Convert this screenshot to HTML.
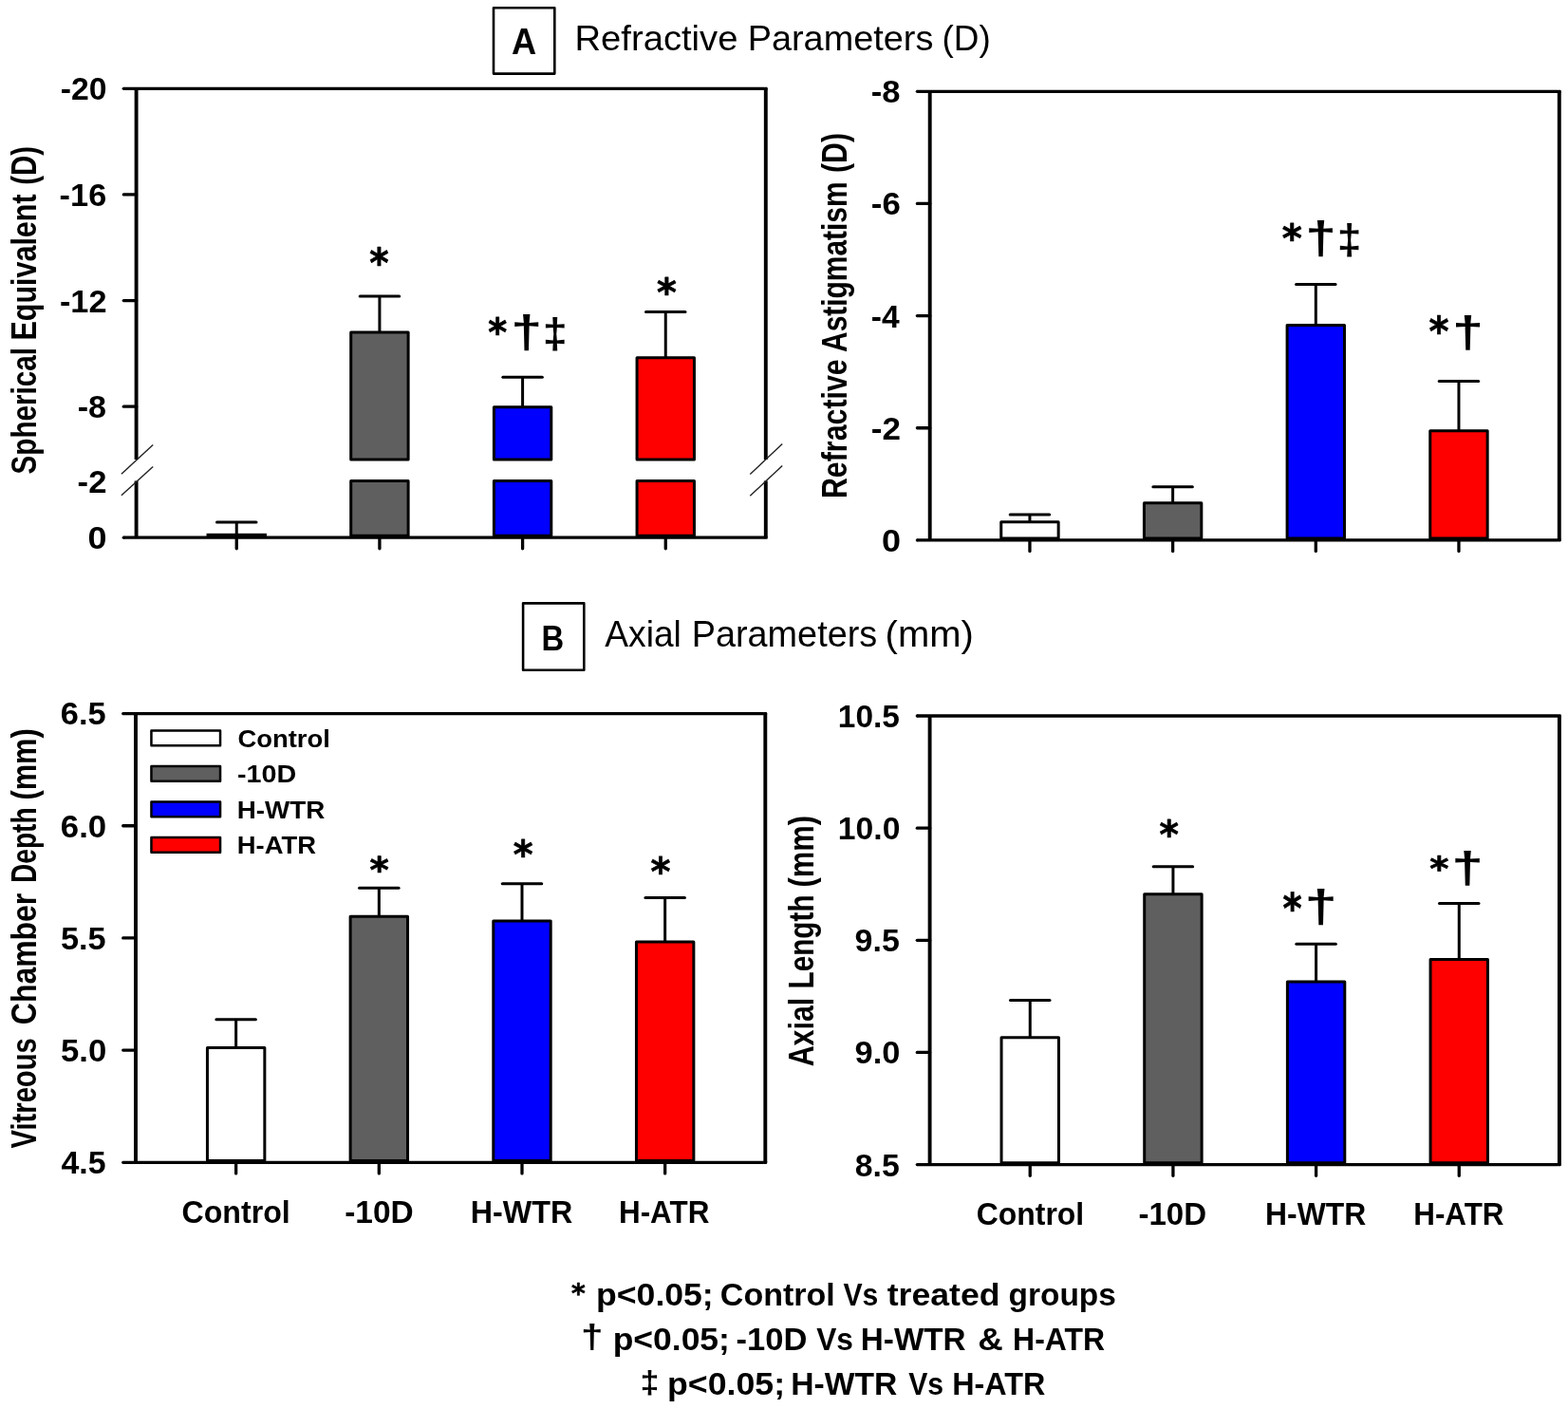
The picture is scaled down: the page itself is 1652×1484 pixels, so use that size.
<!DOCTYPE html>
<html><head><meta charset="utf-8"><title>Refractive and Axial Parameters</title>
<style>html,body{margin:0;padding:0;background:#fff;}svg{display:block;}text{white-space:pre;}</style>
</head><body>
<svg width="1652" height="1484" viewBox="0 0 1652 1484" font-family='"Liberation Sans", Arial, sans-serif'>
<rect width="1652" height="1484" fill="#fff"/>
<rect x="520.00" y="8.20" width="64.30" height="69.40" fill="none" stroke="#000" stroke-width="2.6" stroke-linejoin="round"/>
<text transform="translate(538.89,57.00) scale(0.9444,1)" font-size="38.41" font-weight="bold" fill="#000">A</text>
<text transform="translate(605.54,53.40) scale(1.0215,1)" font-size="37.39" font-weight="normal" fill="#000">Refractive</text>
<text transform="translate(787.67,53.40) scale(1.0132,1)" font-size="37.39" font-weight="normal" fill="#000">Parameters</text>
<text transform="translate(992.48,53.40) scale(0.9873,1)" font-size="37.39" font-weight="normal" fill="#000">(D)</text>
<rect x="551.10" y="635.40" width="64.20" height="70.40" fill="none" stroke="#000" stroke-width="2.6" stroke-linejoin="round"/>
<text transform="translate(570.57,684.50) scale(0.8668,1)" font-size="37.83" font-weight="bold" fill="#000">B</text>
<text transform="translate(637.30,681.30) scale(0.9757,1)" font-size="38.12" font-weight="normal" fill="#000">Axial</text>
<text transform="translate(728.67,681.30) scale(0.9929,1)" font-size="38.12" font-weight="normal" fill="#000">Parameters</text>
<text transform="translate(932.60,681.30) scale(1.0494,1)" font-size="38.12" font-weight="normal" fill="#000">(mm)</text>
<line x1="249.25" y1="550.00" x2="249.25" y2="563.30" stroke="#000" stroke-width="3.0" stroke-linecap="butt"/>
<line x1="228.50" y1="550.00" x2="270.00" y2="550.00" stroke="#000" stroke-width="3.0" stroke-linecap="round"/>
<rect x="217.55" y="561.80" width="63.40" height="4.40" fill="#000"/>
<line x1="399.92" y1="311.90" x2="399.92" y2="350.00" stroke="#000" stroke-width="3.0" stroke-linecap="butt"/>
<line x1="379.17" y1="311.90" x2="420.67" y2="311.90" stroke="#000" stroke-width="3.0" stroke-linecap="round"/>
<rect x="369.72" y="350.00" width="60.40" height="134.00" fill="#5f5f5f" stroke="#000" stroke-width="3.0" stroke-linejoin="round"/>
<rect x="369.72" y="506.50" width="60.40" height="57.80" fill="#5f5f5f" stroke="#000" stroke-width="3.0" stroke-linejoin="round"/>
<line x1="550.59" y1="397.30" x2="550.59" y2="428.80" stroke="#000" stroke-width="3.0" stroke-linecap="butt"/>
<line x1="529.84" y1="397.30" x2="571.34" y2="397.30" stroke="#000" stroke-width="3.0" stroke-linecap="round"/>
<rect x="520.39" y="428.80" width="60.40" height="55.20" fill="#0000ff" stroke="#000" stroke-width="3.0" stroke-linejoin="round"/>
<rect x="520.39" y="506.50" width="60.40" height="57.80" fill="#0000ff" stroke="#000" stroke-width="3.0" stroke-linejoin="round"/>
<line x1="701.26" y1="328.40" x2="701.26" y2="376.70" stroke="#000" stroke-width="3.0" stroke-linecap="butt"/>
<line x1="680.51" y1="328.40" x2="722.01" y2="328.40" stroke="#000" stroke-width="3.0" stroke-linecap="round"/>
<rect x="671.06" y="376.70" width="60.40" height="107.30" fill="#ff0000" stroke="#000" stroke-width="3.0" stroke-linejoin="round"/>
<rect x="671.06" y="506.50" width="60.40" height="57.80" fill="#ff0000" stroke="#000" stroke-width="3.0" stroke-linejoin="round"/>
<line x1="130.30" y1="93.35" x2="805.35" y2="93.35" stroke="#000" stroke-width="3.3" stroke-linecap="butt"/>
<circle cx="130.30" cy="93.35" r="1.65" fill="#000"/>
<line x1="130.30" y1="566.20" x2="805.35" y2="566.20" stroke="#000" stroke-width="3.3" stroke-linecap="butt"/>
<circle cx="130.30" cy="566.20" r="1.65" fill="#000"/>
<line x1="143.60" y1="93.35" x2="143.60" y2="484.00" stroke="#000" stroke-width="3.9" stroke-linecap="butt"/>
<line x1="143.60" y1="506.50" x2="143.60" y2="566.20" stroke="#000" stroke-width="3.9" stroke-linecap="butt"/>
<line x1="806.80" y1="93.35" x2="806.80" y2="484.00" stroke="#000" stroke-width="3.9" stroke-linecap="butt"/>
<line x1="806.80" y1="506.50" x2="806.80" y2="566.20" stroke="#000" stroke-width="3.9" stroke-linecap="butt"/>
<rect x="804.85" y="91.70" width="3.90" height="3.30" rx="1.2" fill="#000"/>
<rect x="804.85" y="564.55" width="3.90" height="3.30" rx="1.2" fill="#000"/>
<line x1="130.30" y1="204.95" x2="143.60" y2="204.95" stroke="#000" stroke-width="3.3" stroke-linecap="round"/>
<line x1="130.30" y1="316.55" x2="143.60" y2="316.55" stroke="#000" stroke-width="3.3" stroke-linecap="round"/>
<line x1="130.30" y1="428.15" x2="143.60" y2="428.15" stroke="#000" stroke-width="3.3" stroke-linecap="round"/>
<line x1="249.25" y1="566.20" x2="249.25" y2="577.85" stroke="#000" stroke-width="3.3" stroke-linecap="round"/>
<line x1="399.92" y1="566.20" x2="399.92" y2="577.85" stroke="#000" stroke-width="3.3" stroke-linecap="round"/>
<line x1="550.59" y1="566.20" x2="550.59" y2="577.85" stroke="#000" stroke-width="3.3" stroke-linecap="round"/>
<line x1="701.26" y1="566.20" x2="701.26" y2="577.85" stroke="#000" stroke-width="3.3" stroke-linecap="round"/>
<line x1="127.90" y1="499.30" x2="161.20" y2="468.50" stroke="#222" stroke-width="1.4" stroke-linecap="butt"/>
<line x1="127.90" y1="521.70" x2="161.20" y2="491.60" stroke="#222" stroke-width="1.4" stroke-linecap="butt"/>
<line x1="790.30" y1="499.50" x2="824.20" y2="467.50" stroke="#222" stroke-width="1.4" stroke-linecap="butt"/>
<line x1="790.30" y1="522.20" x2="824.20" y2="490.60" stroke="#222" stroke-width="1.4" stroke-linecap="butt"/>
<text transform="translate(63.65,105.18) scale(1.0426,1)" font-size="32.39" font-weight="bold" fill="#000">-20</text>
<text transform="translate(62.62,216.78) scale(1.0613,1)" font-size="32.39" font-weight="bold" fill="#000">-16</text>
<text transform="translate(62.93,328.70) scale(1.0435,1)" font-size="32.86" font-weight="bold" fill="#000">-12</text>
<text transform="translate(81.73,439.98) scale(1.0541,1)" font-size="32.39" font-weight="bold" fill="#000">-8</text>
<text transform="translate(81.61,518.65) scale(1.0558,1)" font-size="32.86" font-weight="bold" fill="#000">-2</text>
<text transform="translate(92.56,578.03) scale(1.1113,1)" font-size="32.39" font-weight="bold" fill="#000">0</text>
<text transform="translate(37.80,499.49) rotate(-90) scale(0.7868,1)" font-size="37.68" font-weight="bold">Spherical</text>
<text transform="translate(37.80,358.48) rotate(-90) scale(0.8089,1)" font-size="37.68" font-weight="bold">Equivalent</text>
<text transform="translate(37.80,194.66) rotate(-90) scale(0.7756,1)" font-size="37.68" font-weight="bold">(D)</text>
<text transform="translate(389.17,292.12) scale(0.9103,1)" font-size="42.80" font-weight="bold" fill="#000" font-family="'DejaVu Sans', sans-serif" stroke="#000" stroke-width="0.7" stroke-linejoin="round">*</text>
<text transform="translate(514.19,363.75) scale(0.9282,1)" font-size="41.08" font-weight="bold" fill="#000" font-family="'DejaVu Sans', sans-serif" stroke="#000" stroke-width="0.7" stroke-linejoin="round">*</text>
<text transform="translate(538.15,365.90) scale(1.2425,1)" font-size="47.72" font-weight="bold" fill="#000">†</text>
<text transform="translate(571.76,365.90) scale(1.0575,1)" font-size="44.28" font-weight="bold" fill="#000">‡</text>
<text transform="translate(692.05,322.05) scale(0.9687,1)" font-size="41.08" font-weight="bold" fill="#000" font-family="'DejaVu Sans', sans-serif" stroke="#000" stroke-width="0.7" stroke-linejoin="round">*</text>
<line x1="1084.95" y1="541.90" x2="1084.95" y2="549.80" stroke="#000" stroke-width="3.0" stroke-linecap="butt"/>
<line x1="1064.20" y1="541.90" x2="1105.70" y2="541.90" stroke="#000" stroke-width="3.0" stroke-linecap="round"/>
<rect x="1054.75" y="549.80" width="60.40" height="17.20" fill="#ffffff" stroke="#000" stroke-width="3.0" stroke-linejoin="round"/>
<line x1="1235.62" y1="512.80" x2="1235.62" y2="529.70" stroke="#000" stroke-width="3.0" stroke-linecap="butt"/>
<line x1="1214.87" y1="512.80" x2="1256.37" y2="512.80" stroke="#000" stroke-width="3.0" stroke-linecap="round"/>
<rect x="1205.42" y="529.70" width="60.40" height="37.30" fill="#5f5f5f" stroke="#000" stroke-width="3.0" stroke-linejoin="round"/>
<line x1="1386.29" y1="299.50" x2="1386.29" y2="342.40" stroke="#000" stroke-width="3.0" stroke-linecap="butt"/>
<line x1="1365.54" y1="299.50" x2="1407.04" y2="299.50" stroke="#000" stroke-width="3.0" stroke-linecap="round"/>
<rect x="1356.09" y="342.40" width="60.40" height="224.60" fill="#0000ff" stroke="#000" stroke-width="3.0" stroke-linejoin="round"/>
<line x1="1536.96" y1="401.50" x2="1536.96" y2="453.70" stroke="#000" stroke-width="3.0" stroke-linecap="butt"/>
<line x1="1516.21" y1="401.50" x2="1557.71" y2="401.50" stroke="#000" stroke-width="3.0" stroke-linecap="round"/>
<rect x="1506.76" y="453.70" width="60.40" height="113.30" fill="#ff0000" stroke="#000" stroke-width="3.0" stroke-linejoin="round"/>
<line x1="966.40" y1="96.30" x2="1641.35" y2="96.30" stroke="#000" stroke-width="3.3" stroke-linecap="butt"/>
<circle cx="966.40" cy="96.30" r="1.65" fill="#000"/>
<line x1="966.40" y1="568.90" x2="1641.35" y2="568.90" stroke="#000" stroke-width="3.3" stroke-linecap="butt"/>
<circle cx="966.40" cy="568.90" r="1.65" fill="#000"/>
<line x1="979.70" y1="96.30" x2="979.70" y2="568.90" stroke="#000" stroke-width="3.9" stroke-linecap="butt"/>
<line x1="1642.80" y1="96.30" x2="1642.80" y2="568.90" stroke="#000" stroke-width="3.9" stroke-linecap="butt"/>
<rect x="1640.85" y="94.65" width="3.90" height="3.30" rx="1.2" fill="#000"/>
<rect x="1640.85" y="567.25" width="3.90" height="3.30" rx="1.2" fill="#000"/>
<line x1="966.40" y1="214.45" x2="979.70" y2="214.45" stroke="#000" stroke-width="3.3" stroke-linecap="round"/>
<line x1="966.40" y1="332.60" x2="979.70" y2="332.60" stroke="#000" stroke-width="3.3" stroke-linecap="round"/>
<line x1="966.40" y1="450.75" x2="979.70" y2="450.75" stroke="#000" stroke-width="3.3" stroke-linecap="round"/>
<line x1="1084.95" y1="568.90" x2="1084.95" y2="580.55" stroke="#000" stroke-width="3.3" stroke-linecap="round"/>
<line x1="1235.62" y1="568.90" x2="1235.62" y2="580.55" stroke="#000" stroke-width="3.3" stroke-linecap="round"/>
<line x1="1386.29" y1="568.90" x2="1386.29" y2="580.55" stroke="#000" stroke-width="3.3" stroke-linecap="round"/>
<line x1="1536.96" y1="568.90" x2="1536.96" y2="580.55" stroke="#000" stroke-width="3.3" stroke-linecap="round"/>
<text transform="translate(917.81,108.13) scale(1.0691,1)" font-size="32.39" font-weight="bold" fill="#000">-8</text>
<text transform="translate(917.81,226.28) scale(1.0757,1)" font-size="32.39" font-weight="bold" fill="#000">-6</text>
<text transform="translate(917.86,344.75) scale(1.0083,1)" font-size="33.33" font-weight="bold" fill="#000">-4</text>
<text transform="translate(917.80,462.90) scale(1.0671,1)" font-size="32.86" font-weight="bold" fill="#000">-2</text>
<text transform="translate(929.06,580.73) scale(1.1113,1)" font-size="32.39" font-weight="bold" fill="#000">0</text>
<text transform="translate(891.70,525.07) rotate(-90) scale(0.8085,1)" font-size="37.54" font-weight="bold">Refractive</text>
<text transform="translate(891.70,370.95) rotate(-90) scale(0.7968,1)" font-size="37.54" font-weight="bold">Astigmatism</text>
<text transform="translate(891.70,182.01) rotate(-90) scale(0.8054,1)" font-size="37.54" font-weight="bold">(D)</text>
<text transform="translate(1350.75,264.63) scale(0.9893,1)" font-size="40.65" font-weight="bold" fill="#000" font-family="'DejaVu Sans', sans-serif" stroke="#000" stroke-width="0.7" stroke-linejoin="round">*</text>
<text transform="translate(1375.29,267.29) scale(1.2245,1)" font-size="47.85" font-weight="bold" fill="#000">†</text>
<text transform="translate(1408.79,267.28) scale(1.0410,1)" font-size="44.53" font-weight="bold" fill="#000">‡</text>
<text transform="translate(1505.55,364.36) scale(0.9443,1)" font-size="42.58" font-weight="bold" fill="#000" font-family="'DejaVu Sans', sans-serif" stroke="#000" stroke-width="0.7" stroke-linejoin="round">*</text>
<text transform="translate(1529.95,365.66) scale(1.2660,1)" font-size="46.84" font-weight="bold" fill="#000">†</text>
<line x1="248.65" y1="1073.70" x2="248.65" y2="1103.40" stroke="#000" stroke-width="3.0" stroke-linecap="butt"/>
<line x1="227.90" y1="1073.70" x2="269.40" y2="1073.70" stroke="#000" stroke-width="3.0" stroke-linecap="round"/>
<rect x="218.45" y="1103.40" width="60.40" height="119.00" fill="#ffffff" stroke="#000" stroke-width="3.0" stroke-linejoin="round"/>
<line x1="399.32" y1="935.20" x2="399.32" y2="965.20" stroke="#000" stroke-width="3.0" stroke-linecap="butt"/>
<line x1="378.57" y1="935.20" x2="420.07" y2="935.20" stroke="#000" stroke-width="3.0" stroke-linecap="round"/>
<rect x="369.12" y="965.20" width="60.40" height="257.20" fill="#5f5f5f" stroke="#000" stroke-width="3.0" stroke-linejoin="round"/>
<line x1="549.99" y1="930.80" x2="549.99" y2="970.10" stroke="#000" stroke-width="3.0" stroke-linecap="butt"/>
<line x1="529.24" y1="930.80" x2="570.74" y2="930.80" stroke="#000" stroke-width="3.0" stroke-linecap="round"/>
<rect x="519.79" y="970.10" width="60.40" height="252.30" fill="#0000ff" stroke="#000" stroke-width="3.0" stroke-linejoin="round"/>
<line x1="700.66" y1="945.40" x2="700.66" y2="991.90" stroke="#000" stroke-width="3.0" stroke-linecap="butt"/>
<line x1="679.91" y1="945.40" x2="721.41" y2="945.40" stroke="#000" stroke-width="3.0" stroke-linecap="round"/>
<rect x="670.46" y="991.90" width="60.40" height="230.50" fill="#ff0000" stroke="#000" stroke-width="3.0" stroke-linejoin="round"/>
<line x1="129.70" y1="751.60" x2="804.85" y2="751.60" stroke="#000" stroke-width="3.3" stroke-linecap="butt"/>
<circle cx="129.70" cy="751.60" r="1.65" fill="#000"/>
<line x1="129.70" y1="1224.30" x2="804.85" y2="1224.30" stroke="#000" stroke-width="3.3" stroke-linecap="butt"/>
<circle cx="129.70" cy="1224.30" r="1.65" fill="#000"/>
<line x1="143.00" y1="751.60" x2="143.00" y2="1224.30" stroke="#000" stroke-width="3.9" stroke-linecap="butt"/>
<line x1="806.30" y1="751.60" x2="806.30" y2="1224.30" stroke="#000" stroke-width="3.9" stroke-linecap="butt"/>
<rect x="804.35" y="749.95" width="3.90" height="3.30" rx="1.2" fill="#000"/>
<rect x="804.35" y="1222.65" width="3.90" height="3.30" rx="1.2" fill="#000"/>
<line x1="129.70" y1="869.77" x2="143.00" y2="869.77" stroke="#000" stroke-width="3.3" stroke-linecap="round"/>
<line x1="129.70" y1="987.95" x2="143.00" y2="987.95" stroke="#000" stroke-width="3.3" stroke-linecap="round"/>
<line x1="129.70" y1="1106.12" x2="143.00" y2="1106.12" stroke="#000" stroke-width="3.3" stroke-linecap="round"/>
<line x1="248.65" y1="1224.30" x2="248.65" y2="1235.95" stroke="#000" stroke-width="3.3" stroke-linecap="round"/>
<line x1="399.32" y1="1224.30" x2="399.32" y2="1235.95" stroke="#000" stroke-width="3.3" stroke-linecap="round"/>
<line x1="549.99" y1="1224.30" x2="549.99" y2="1235.95" stroke="#000" stroke-width="3.3" stroke-linecap="round"/>
<line x1="700.66" y1="1224.30" x2="700.66" y2="1235.95" stroke="#000" stroke-width="3.3" stroke-linecap="round"/>
<text transform="translate(63.79,763.43) scale(1.0630,1)" font-size="32.39" font-weight="bold" fill="#000">6.5</text>
<text transform="translate(63.78,881.60) scale(1.0752,1)" font-size="32.39" font-weight="bold" fill="#000">6.0</text>
<text transform="translate(63.97,999.77) scale(1.0441,1)" font-size="32.86" font-weight="bold" fill="#000">5.5</text>
<text transform="translate(63.96,1117.95) scale(1.0711,1)" font-size="32.39" font-weight="bold" fill="#000">5.0</text>
<text transform="translate(64.49,1236.12) scale(1.0325,1)" font-size="32.86" font-weight="bold" fill="#000">4.5</text>
<text transform="translate(38.00,1209.45) rotate(-90) scale(0.7957,1)" font-size="36.67" font-weight="bold">Vitreous</text>
<text transform="translate(38.00,1079.18) rotate(-90) scale(0.8717,1)" font-size="36.67" font-weight="bold">Chamber</text>
<text transform="translate(38.00,930.03) rotate(-90) scale(0.7663,1)" font-size="36.67" font-weight="bold">Depth</text>
<text transform="translate(38.00,842.44) rotate(-90) scale(0.8374,1)" font-size="36.67" font-weight="bold">(mm)</text>
<text transform="translate(389.58,928.64) scale(1.0356,1)" font-size="37.42" font-weight="bold" fill="#000" font-family="'DejaVu Sans', sans-serif" stroke="#000" stroke-width="0.7" stroke-linejoin="round">*</text>
<text transform="translate(540.85,913.71) scale(0.9895,1)" font-size="40.22" font-weight="bold" fill="#000" font-family="'DejaVu Sans', sans-serif" stroke="#000" stroke-width="0.7" stroke-linejoin="round">*</text>
<text transform="translate(685.55,932.20) scale(0.9687,1)" font-size="41.29" font-weight="bold" fill="#000" font-family="'DejaVu Sans', sans-serif" stroke="#000" stroke-width="0.7" stroke-linejoin="round">*</text>
<rect x="159.45" y="769.45" width="72.60" height="15.70" fill="#ffffff" stroke="#000" stroke-width="2.5" stroke-linejoin="round"/>
<text transform="translate(250.40,786.90) scale(1.0585,1)" font-size="25.94" font-weight="bold" fill="#000">Control</text>
<rect x="159.45" y="806.95" width="72.60" height="15.70" fill="#5f5f5f" stroke="#000" stroke-width="2.5" stroke-linejoin="round"/>
<text transform="translate(249.95,824.40) scale(1.1074,1)" font-size="25.94" font-weight="bold" fill="#000">-10D</text>
<rect x="159.45" y="844.45" width="72.60" height="15.70" fill="#0000ff" stroke="#000" stroke-width="2.5" stroke-linejoin="round"/>
<text transform="translate(249.69,861.90) scale(1.0727,1)" font-size="25.94" font-weight="bold" fill="#000">H-WTR</text>
<rect x="159.45" y="881.95" width="72.60" height="15.70" fill="#ff0000" stroke="#000" stroke-width="2.5" stroke-linejoin="round"/>
<text transform="translate(249.72,899.40) scale(1.0571,1)" font-size="25.94" font-weight="bold" fill="#000">H-ATR</text>
<text transform="translate(191.41,1287.90) scale(0.9649,1)" font-size="33.33" font-weight="bold" fill="#000">Control</text>
<text transform="translate(363.16,1287.90) scale(1.0043,1)" font-size="33.33" font-weight="bold" fill="#000">-10D</text>
<text transform="translate(495.70,1287.90) scale(0.9680,1)" font-size="33.33" font-weight="bold" fill="#000">H-WTR</text>
<text transform="translate(651.96,1287.90) scale(0.9427,1)" font-size="33.33" font-weight="bold" fill="#000">H-ATR</text>
<line x1="1085.25" y1="1053.60" x2="1085.25" y2="1092.80" stroke="#000" stroke-width="3.0" stroke-linecap="butt"/>
<line x1="1064.50" y1="1053.60" x2="1106.00" y2="1053.60" stroke="#000" stroke-width="3.0" stroke-linecap="round"/>
<rect x="1055.05" y="1092.80" width="60.40" height="131.90" fill="#ffffff" stroke="#000" stroke-width="3.0" stroke-linejoin="round"/>
<line x1="1235.92" y1="912.70" x2="1235.92" y2="941.70" stroke="#000" stroke-width="3.0" stroke-linecap="butt"/>
<line x1="1215.17" y1="912.70" x2="1256.67" y2="912.70" stroke="#000" stroke-width="3.0" stroke-linecap="round"/>
<rect x="1205.72" y="941.70" width="60.40" height="283.00" fill="#5f5f5f" stroke="#000" stroke-width="3.0" stroke-linejoin="round"/>
<line x1="1386.59" y1="994.20" x2="1386.59" y2="1033.90" stroke="#000" stroke-width="3.0" stroke-linecap="butt"/>
<line x1="1365.84" y1="994.20" x2="1407.34" y2="994.20" stroke="#000" stroke-width="3.0" stroke-linecap="round"/>
<rect x="1356.39" y="1033.90" width="60.40" height="190.80" fill="#0000ff" stroke="#000" stroke-width="3.0" stroke-linejoin="round"/>
<line x1="1537.26" y1="951.60" x2="1537.26" y2="1010.50" stroke="#000" stroke-width="3.0" stroke-linecap="butt"/>
<line x1="1516.51" y1="951.60" x2="1558.01" y2="951.60" stroke="#000" stroke-width="3.0" stroke-linecap="round"/>
<rect x="1507.06" y="1010.50" width="60.40" height="214.20" fill="#ff0000" stroke="#000" stroke-width="3.0" stroke-linejoin="round"/>
<line x1="966.30" y1="754.00" x2="1641.45" y2="754.00" stroke="#000" stroke-width="3.3" stroke-linecap="butt"/>
<circle cx="966.30" cy="754.00" r="1.65" fill="#000"/>
<line x1="966.30" y1="1226.60" x2="1641.45" y2="1226.60" stroke="#000" stroke-width="3.3" stroke-linecap="butt"/>
<circle cx="966.30" cy="1226.60" r="1.65" fill="#000"/>
<line x1="979.60" y1="754.00" x2="979.60" y2="1226.60" stroke="#000" stroke-width="3.9" stroke-linecap="butt"/>
<line x1="1642.90" y1="754.00" x2="1642.90" y2="1226.60" stroke="#000" stroke-width="3.9" stroke-linecap="butt"/>
<rect x="1640.95" y="752.35" width="3.90" height="3.30" rx="1.2" fill="#000"/>
<rect x="1640.95" y="1224.95" width="3.90" height="3.30" rx="1.2" fill="#000"/>
<line x1="966.30" y1="872.15" x2="979.60" y2="872.15" stroke="#000" stroke-width="3.3" stroke-linecap="round"/>
<line x1="966.30" y1="990.30" x2="979.60" y2="990.30" stroke="#000" stroke-width="3.3" stroke-linecap="round"/>
<line x1="966.30" y1="1108.45" x2="979.60" y2="1108.45" stroke="#000" stroke-width="3.3" stroke-linecap="round"/>
<line x1="1085.25" y1="1226.60" x2="1085.25" y2="1238.25" stroke="#000" stroke-width="3.3" stroke-linecap="round"/>
<line x1="1235.92" y1="1226.60" x2="1235.92" y2="1238.25" stroke="#000" stroke-width="3.3" stroke-linecap="round"/>
<line x1="1386.59" y1="1226.60" x2="1386.59" y2="1238.25" stroke="#000" stroke-width="3.3" stroke-linecap="round"/>
<line x1="1537.26" y1="1226.60" x2="1537.26" y2="1238.25" stroke="#000" stroke-width="3.3" stroke-linecap="round"/>
<text transform="translate(882.79,766.03) scale(1.0323,1)" font-size="32.39" font-weight="bold" fill="#000">10.5</text>
<text transform="translate(882.78,884.18) scale(1.0407,1)" font-size="32.39" font-weight="bold" fill="#000">10.0</text>
<text transform="translate(900.61,1002.33) scale(1.0491,1)" font-size="32.39" font-weight="bold" fill="#000">9.5</text>
<text transform="translate(900.60,1120.48) scale(1.0611,1)" font-size="32.39" font-weight="bold" fill="#000">9.0</text>
<text transform="translate(900.78,1238.63) scale(1.0452,1)" font-size="32.39" font-weight="bold" fill="#000">8.5</text>
<text transform="translate(857.40,1123.36) rotate(-90) scale(0.8295,1)" font-size="36.67" font-weight="bold">Axial</text>
<text transform="translate(857.40,1041.53) rotate(-90) scale(0.8109,1)" font-size="36.67" font-weight="bold">Length</text>
<text transform="translate(857.40,934.55) rotate(-90) scale(0.8443,1)" font-size="36.67" font-weight="bold">(mm)</text>
<text transform="translate(1221.57,893.45) scale(0.9740,1)" font-size="40.00" font-weight="bold" fill="#000" font-family="'DejaVu Sans', sans-serif" stroke="#000" stroke-width="0.7" stroke-linejoin="round">*</text>
<text transform="translate(1351.58,971.57) scale(0.8742,1)" font-size="44.09" font-weight="bold" fill="#000" font-family="'DejaVu Sans', sans-serif" stroke="#000" stroke-width="0.7" stroke-linejoin="round">*</text>
<text transform="translate(1374.59,971.22) scale(1.3022,1)" font-size="47.34" font-weight="bold" fill="#000">†</text>
<text transform="translate(1506.18,926.93) scale(1.0732,1)" font-size="35.91" font-weight="bold" fill="#000" font-family="'DejaVu Sans', sans-serif" stroke="#000" stroke-width="0.7" stroke-linejoin="round">*</text>
<text transform="translate(1529.37,929.88) scale(1.3017,1)" font-size="46.46" font-weight="bold" fill="#000">†</text>
<text transform="translate(1028.72,1289.80) scale(0.9579,1)" font-size="33.33" font-weight="bold" fill="#000">Control</text>
<text transform="translate(1199.38,1289.80) scale(0.9928,1)" font-size="33.33" font-weight="bold" fill="#000">-10D</text>
<text transform="translate(1333.03,1289.80) scale(0.9569,1)" font-size="33.33" font-weight="bold" fill="#000">H-WTR</text>
<text transform="translate(1489.26,1289.80) scale(0.9417,1)" font-size="33.33" font-weight="bold" fill="#000">H-ATR</text>
<text transform="translate(602.04,1371.89) scale(1.0060,1)" font-size="27.96" font-weight="bold" fill="#000" font-family="'DejaVu Sans', sans-serif" stroke="#000" stroke-width="0.6" stroke-linejoin="round">*</text>
<text transform="translate(628.09,1375.30) scale(1.0916,1)" font-size="32.61" font-weight="bold" fill="#000">p&lt;0.05;</text>
<text transform="translate(758.84,1375.30) scale(1.0433,1)" font-size="32.61" font-weight="bold" fill="#000">Control</text>
<text transform="translate(888.45,1375.30) scale(0.9239,1)" font-size="32.61" font-weight="bold" fill="#000">Vs</text>
<text transform="translate(934.64,1375.30) scale(1.0931,1)" font-size="32.61" font-weight="bold" fill="#000">treated</text>
<text transform="translate(1062.56,1375.30) scale(1.0256,1)" font-size="32.61" font-weight="bold" fill="#000">groups</text>
<text transform="translate(611.95,1419.96) scale(1.2301,1)" font-size="34.43" font-weight="bold" fill="#000">†</text>
<text transform="translate(645.69,1421.50) scale(1.0879,1)" font-size="32.61" font-weight="bold" fill="#000">p&lt;0.05;</text>
<text transform="translate(775.62,1421.50) scale(1.0590,1)" font-size="32.61" font-weight="bold" fill="#000">-10D</text>
<text transform="translate(860.24,1421.50) scale(0.9709,1)" font-size="32.61" font-weight="bold" fill="#000">Vs</text>
<text transform="translate(906.84,1421.50) scale(1.0197,1)" font-size="32.61" font-weight="bold" fill="#000">H-WTR</text>
<text transform="translate(1030.15,1421.50) scale(1.1268,1)" font-size="32.61" font-weight="bold" fill="#000">&amp;</text>
<text transform="translate(1067.12,1421.50) scale(0.9803,1)" font-size="32.61" font-weight="bold" fill="#000">H-ATR</text>
<text transform="translate(674.46,1466.78) scale(1.0841,1)" font-size="33.21" font-weight="bold" fill="#000">‡</text>
<text transform="translate(703.08,1468.90) scale(1.0944,1)" font-size="32.61" font-weight="bold" fill="#000">p&lt;0.05;</text>
<text transform="translate(833.31,1468.90) scale(1.0320,1)" font-size="32.61" font-weight="bold" fill="#000">H-WTR</text>
<text transform="translate(957.15,1468.90) scale(0.9265,1)" font-size="32.61" font-weight="bold" fill="#000">Vs</text>
<text transform="translate(1003.20,1468.90) scale(0.9917,1)" font-size="32.61" font-weight="bold" fill="#000">H-ATR</text>
</svg>
</body></html>
